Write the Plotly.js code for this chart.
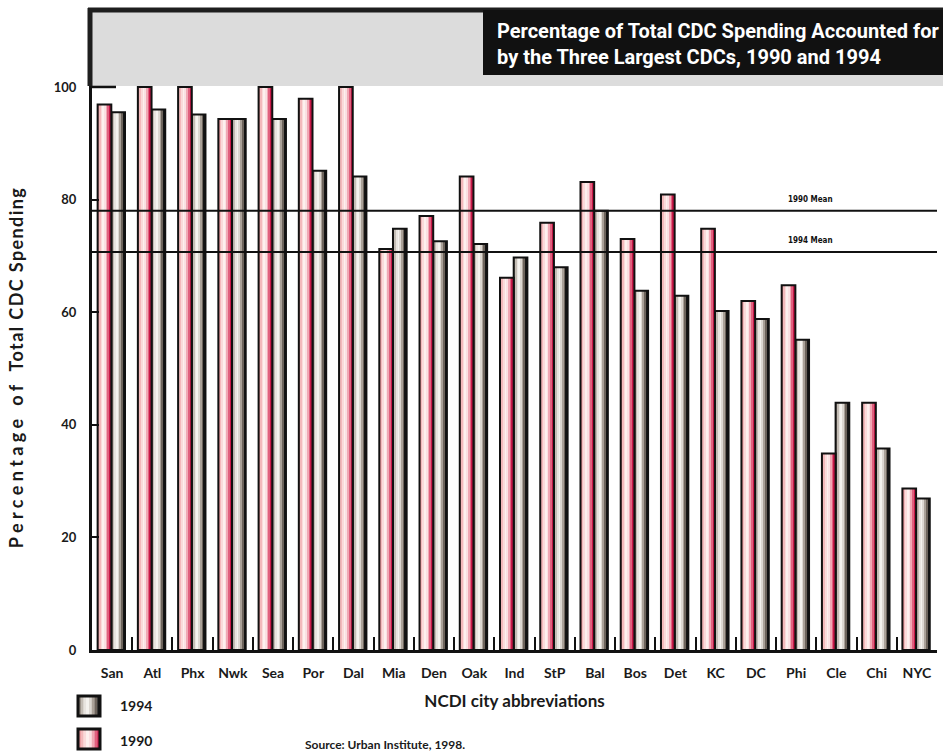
<!DOCTYPE html>
<html>
<head>
<meta charset="utf-8">
<script src="https://cdn.plot.ly/plotly-3.0.1.min.js"></script>
<style>
  html, body { margin: 0; padding: 0; background: #ffffff; }
  #chart { width: 943px; height: 755px; }
</style>
</head>
<body>
<div id="chart"></div>
<script>
// Share of total CDC spending held by each city's three largest CDCs (%)
const cities = ['San', 'Atl', 'Phx', 'Nwk', 'Sea', 'Por', 'Dal', 'Mia', 'Den', 'Oak', 'Ind',
                'StP', 'Bal', 'Bos', 'Det', 'KC', 'DC', 'Phi', 'Cle', 'Chi', 'NYC'];
const share1990 = [96.9, 100, 100, 94.3, 100, 97.9, 100, 71.2, 77.1, 84.1, 66.1,
                   75.9, 83.1, 73.0, 80.9, 74.8, 62.0, 64.8, 34.9, 43.9, 28.7];
const share1994 = [95.5, 96.0, 95.1, 94.3, 94.3, 85.1, 84.1, 74.8, 72.6, 72.1, 69.7,
                   68.0, 78.0, 63.8, 62.9, 60.2, 58.8, 55.1, 43.9, 35.8, 26.9];
const mean1990 = 78.0;
const mean1994 = 70.7;
const yTicks = [0, 20, 40, 60, 80, 100];

// Vertical shading bands (left to right) that give each bar its rounded look
const pinkBands = ['#e8959a', '#f3b9bb', '#fadada', '#fdf0ee', '#fae0e2', '#f0a8b4', '#e0607e', '#c81848'];
const greyBands = ['#8f857c', '#c4bdb5', '#e8e4df', '#f4f2ee', '#dcd7d1', '#aaa198', '#6d645c', '#161616'];

const BAR_W = 0.34;
const FONT = 'Lato, "Open Sans", sans-serif';

function shadedBars(values, bands, offset, name) {
  const out = [];
  const w = BAR_W / bands.length;
  bands.forEach((c, k) => {
    out.push({
      type: 'bar', x: cities, y: values, name: name,
      offset: offset + k * w, width: w * 1.02,
      marker: { color: c, line: { width: 0 } },
      showlegend: false, hoverinfo: 'skip'
    });
  });
  // black outline drawn over the shading
  out.push({
    type: 'bar', x: cities, y: values, name: name,
    offset: offset, width: BAR_W,
    marker: { color: 'rgba(0,0,0,0)', line: { color: '#111111', width: 2 } },
    showlegend: false,
    hovertemplate: '%{x} ' + name + ': %{y}%<extra></extra>'
  });
  return out;
}

const traces = []
  .concat(shadedBars(share1994, greyBands, -0.02, '1994'))
  .concat(shadedBars(share1990, pinkBands, -0.36, '1990'));

// paper-coordinate helpers for the 845 x 565 plot box at (92, 85)
const px = v => (v - 92) / 845;
const py = v => (650 - v) / 565;

const shapes = [
  // grey header band with dark frame
  { type: 'rect', xref: 'paper', yref: 'paper', x0: px(88), x1: px(943), y0: py(86), y1: py(9),
    fillcolor: '#dcdcdc', line: { width: 0 }, layer: 'above' },
  { type: 'line', xref: 'paper', yref: 'paper', x0: px(88), x1: px(943), y0: py(10), y1: py(10),
    line: { color: '#1e1e1e', width: 5 }, layer: 'above' },
  { type: 'line', xref: 'paper', yref: 'paper', x0: px(90), x1: px(90), y0: py(8), y1: py(86),
    line: { color: '#1e1e1e', width: 5 }, layer: 'above' },
  // black title panel
  { type: 'rect', xref: 'paper', yref: 'paper', x0: px(483), x1: px(943), y0: py(75), y1: py(10),
    fillcolor: '#111111', line: { width: 0 }, layer: 'above' },
  // long tick at 100
  { type: 'line', xref: 'paper', yref: 'y', x0: 0, x1: px(116), y0: 100, y1: 100,
    line: { color: '#111111', width: 2.5 }, layer: 'above' },
  // mean reference lines
  { type: 'line', xref: 'paper', yref: 'y', x0: 0, x1: 1, y0: mean1990, y1: mean1990,
    line: { color: '#111111', width: 2 }, layer: 'above' },
  { type: 'line', xref: 'paper', yref: 'y', x0: 0, x1: 1, y0: mean1994, y1: mean1994,
    line: { color: '#111111', width: 2 }, layer: 'above' }
];

// legend swatches built from the same shading bands
function swatch(bands, top, bottom) {
  const left = 78, right = 100;
  const step = (right - left) / bands.length;
  bands.forEach((c, k) => {
    shapes.push({ type: 'rect', xref: 'paper', yref: 'paper',
      x0: px(left + k * step), x1: px(left + (k + 1) * step + 0.3), y0: py(bottom), y1: py(top),
      fillcolor: c, line: { width: 0 }, layer: 'above' });
  });
  shapes.push({ type: 'rect', xref: 'paper', yref: 'paper',
    x0: px(left), x1: px(right), y0: py(bottom), y1: py(top),
    fillcolor: 'rgba(0,0,0,0)', line: { color: '#111111', width: 3 }, layer: 'above' });
}
swatch(greyBands, 696, 716);
swatch(pinkBands, 729, 749);

const annotations = [
  { xref: 'paper', yref: 'paper', x: px(118), y: py(706), xanchor: 'left', yanchor: 'middle',
    text: '1994', showarrow: false, font: { family: FONT, size: 14, weight: 'bold', color: '#1a1a1a' } },
  { xref: 'paper', yref: 'paper', x: px(118), y: py(740), xanchor: 'left', yanchor: 'middle',
    text: '1990', showarrow: false, font: { family: FONT, size: 14, weight: 'bold', color: '#1a1a1a' } },
  { xref: 'paper', yref: 'paper', x: px(303), y: py(744), xanchor: 'left', yanchor: 'middle',
    text: 'Source: Urban Institute, 1998.', showarrow: false,
    font: { family: FONT, size: 12, weight: 'bold', color: '#1a1a1a' } },
  { xref: 'paper', yref: 'y', x: px(810), y: mean1990, yshift: 11, xanchor: 'center', yanchor: 'middle',
    text: '1990 Mean', showarrow: false,
    font: { family: '"DejaVu Sans Condensed", sans-serif', size: 8, weight: 'bold', color: '#111' } },
  { xref: 'paper', yref: 'y', x: px(810), y: mean1994, yshift: 11, xanchor: 'center', yanchor: 'middle',
    text: '1994 Mean', showarrow: false,
    font: { family: '"DejaVu Sans Condensed", sans-serif', size: 8, weight: 'bold', color: '#111' } }
];

const layout = {
  width: 943, height: 755,
  margin: { l: 92, r: 6, t: 85, b: 105 },
  paper_bgcolor: '#ffffff', plot_bgcolor: '#ffffff',
  barmode: 'overlay',
  showlegend: false,
  title: {
    text: 'Percentage of Total CDC Spending Accounted for<br>by the Three Largest CDCs, 1990 and 1994',
    xref: 'container', yref: 'container', x: 497 / 943, xanchor: 'left',
    y: 1 - 38 / 755, yanchor: 'middle',
    font: { family: 'Roboto, "Liberation Sans", sans-serif', size: 20,
            weight: 'bold', color: '#ffffff' }
  },
  xaxis: {
    type: 'category', range: [-0.5, 20.5],
    showline: true, linecolor: '#111111', linewidth: 3,
    ticks: 'inside', tickson: 'boundaries', ticklen: 13, tickwidth: 2, tickcolor: '#111111',
    ticklabelstandoff: 8,
    showgrid: false, zeroline: false,
    tickfont: { family: FONT, size: 14, weight: 'bold', color: '#1a1a1a' },
    title: { text: 'NCDI city abbreviations', standoff: 16,
             font: { family: FONT, size: 17, weight: 'bold', color: '#1a1a1a' } }
  },
  yaxis: {
    range: [0, 100.35],
    tickvals: yTicks,
    showline: true, linecolor: '#111111', linewidth: 3,
    ticks: 'inside', ticklen: 7, tickwidth: 2, tickcolor: '#111111',
    ticklabelstandoff: 10,
    showgrid: false, zeroline: false,
    tickfont: { family: FONT, size: 13, weight: 'bold', color: '#1a1a1a' },
    title: { text: '<span style="letter-spacing:4.4px">Percentage of</span>  <span style="letter-spacing:1.4px">Total CDC Spending</span>',
             standoff: 26,
             font: { family: FONT, size: 18, weight: 'bold', color: '#1a1a1a' } }
  },
  shapes: shapes,
  annotations: annotations
};

Plotly.newPlot('chart', traces, layout, { displayModeBar: false, responsive: false });
</script>
</body>
</html>
